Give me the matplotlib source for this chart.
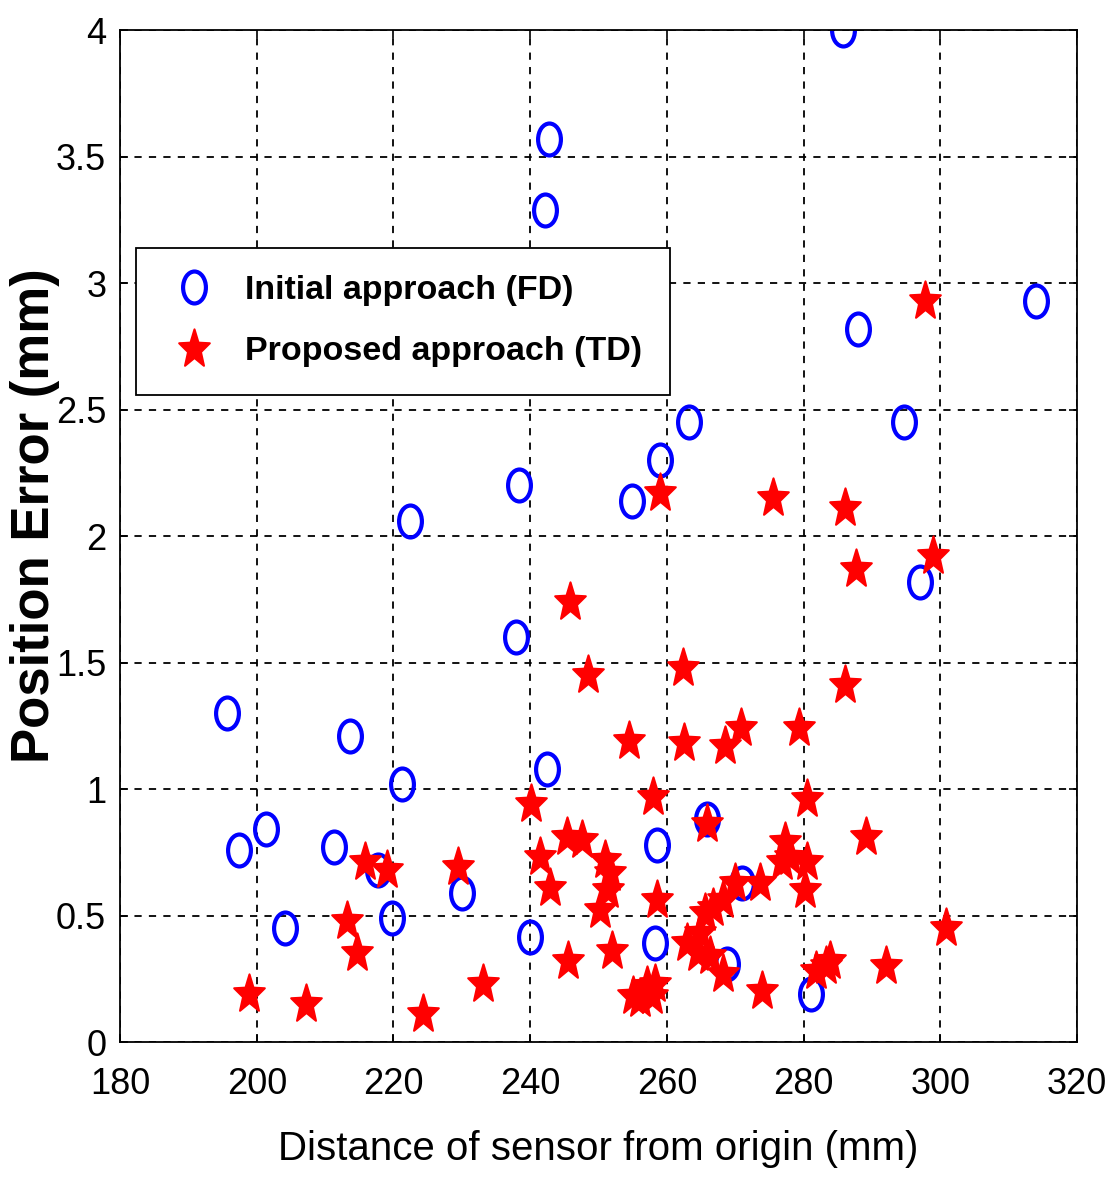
import matplotlib.pyplot as plt
from matplotlib.path import Path
from matplotlib.transforms import Affine2D
import numpy as np

# Initial approach (FD) - blue circles
fd_x = [285.8, 242.8, 242.2, 314.0, 288.0, 294.7, 263.2, 259.0, 238.4, 254.9,
        222.4, 297.0, 237.9, 195.7, 213.6, 221.3, 242.5, 265.8, 201.4, 197.4,
        211.3, 258.6, 217.7, 230.0, 204.1, 219.8, 271.0, 268.8, 281.1, 240.0,
        258.3]
fd_y = [4.00, 3.57, 3.29, 2.93, 2.82, 2.45, 2.45, 2.30, 2.20, 2.14,
        2.06, 1.82, 1.60, 1.30, 1.21, 1.02, 1.08, 0.88, 0.84, 0.76,
        0.77, 0.78, 0.68, 0.59, 0.45, 0.49, 0.63, 0.31, 0.19, 0.415,
        0.39]

# Proposed approach (TD) - red stars
td_x = [297.8, 259.0, 275.5, 286.1, 298.9, 287.7, 245.8, 248.5, 262.4, 286.1,
        270.8, 279.3, 254.5, 262.5, 268.5, 258.0, 240.1, 280.5, 289.1, 265.9,
        300.8, 292.1, 283.3, 281.8, 273.9, 198.9, 207.2, 224.3, 233.1, 245.5,
        251.9, 245.4, 247.6, 241.4, 242.9, 250.9, 251.7, 251.4, 250.2, 258.6,
        255.0, 257.1, 258.3, 257.8, 256.1, 277.3, 278.0, 280.5, 280.2, 276.8,
        273.6, 270.0, 268.2, 265.6, 264.8, 264.6, 266.3, 268.2, 283.9, 266.7,
        263.0, 215.8, 219.1, 229.4, 213.2, 214.7]
td_y = [2.93, 2.17, 2.15, 2.11, 1.92, 1.87, 1.74, 1.45, 1.48, 1.41,
        1.24, 1.24, 1.19, 1.18, 1.17, 0.97, 0.94, 0.96, 0.81, 0.86,
        0.45, 0.30, 0.30, 0.28, 0.20, 0.19, 0.15, 0.11, 0.23, 0.32,
        0.36, 0.81, 0.80, 0.73, 0.61, 0.72, 0.67, 0.60, 0.52, 0.56,
        0.18, 0.22, 0.23, 0.18, 0.17, 0.79, 0.73, 0.71, 0.60, 0.71,
        0.63, 0.63, 0.56, 0.51, 0.43, 0.35, 0.34, 0.27, 0.32, 0.53,
        0.39, 0.71, 0.68, 0.69, 0.48, 0.35]

x_ticks = [180, 200, 220, 240, 260, 280, 300, 320]
y_ticks = [0, 0.5, 1, 1.5, 2, 2.5, 3, 3.5, 4]
y_tick_labels = ['0', '0.5', '1', '1.5', '2', '2.5', '3', '3.5', '4']

font = ['Liberation Sans', 'DejaVu Sans']

# vertically stretched markers (the original picture is stretched)
oval = Path.unit_circle().transformed(Affine2D().scale(1.0, 1.4))
star = Path.unit_regular_star(5, 0.42).transformed(Affine2D().scale(1.0, 1.25))

fig = plt.figure(figsize=(11.12, 11.86), dpi=100)
ax = fig.add_axes([0.108, 0.1214, 0.8605, 0.8533])

ax.plot(fd_x, fd_y, linestyle='none', marker=oval, markersize=23,
        markerfacecolor='none', markeredgecolor='#0000ff', markeredgewidth=3,
        label='Initial approach (FD)')
ax.plot(td_x, td_y, linestyle='none', marker=star, markersize=29,
        markerfacecolor='#ff0000', markeredgecolor='#ff0000', markeredgewidth=1.5,
        label='Proposed approach (TD)')

ax.set_xlim(180, 320)
ax.set_ylim(0, 4)
ax.set_xticks(x_ticks)
ax.set_yticks(y_ticks)
ax.set_yticklabels(y_tick_labels)
ax.grid(True, color='black', linestyle=(0, (4, 4)), linewidth=1.3)
ax.tick_params(direction='in', top=True, right=True, length=6, width=1.2,
               labelsize=26)
ax.tick_params(axis='x', pad=18)
ax.tick_params(axis='y', pad=10)
for lab in ax.get_xticklabels() + ax.get_yticklabels():
    lab.set_family(font)
for sp in ax.spines.values():
    sp.set_linewidth(1.3)

ax.set_xlabel('Distance of sensor from origin (mm)', fontsize=29, family=font,
              labelpad=20)
ax.set_ylabel('Position Error (mm)', fontsize=38, fontweight='bold', family=font)
ax.yaxis.set_label_coords(-0.063, 0.52)

leg = ax.legend(loc='upper left', bbox_to_anchor=(0.017, 0.785), borderaxespad=0,
                fancybox=False, edgecolor='black', framealpha=1, borderpad=0.8,
                handletextpad=0.6, labelspacing=0.9, handlelength=1.8,
                prop={'family': font, 'size': 24.5, 'weight': 'bold'})
leg.get_frame().set_linewidth(1.3)

fig.savefig('out.png', dpi=100, facecolor='white')
